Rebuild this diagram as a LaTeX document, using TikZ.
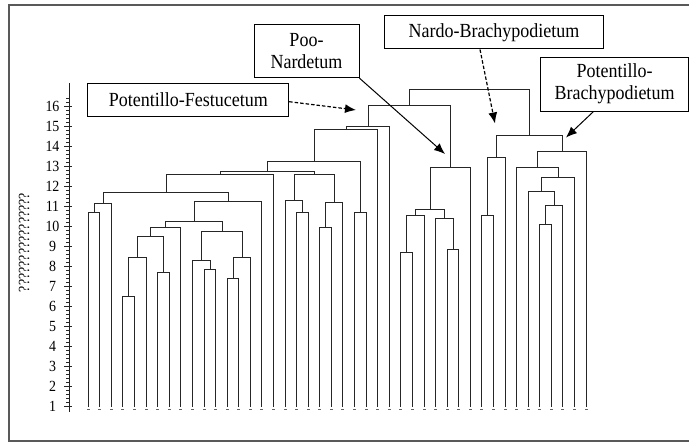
\documentclass[tikz,border=0pt]{standalone}
\usepackage{fontspec}
\setmainfont{Liberation Serif}
\newfontfamily\lblfont[FakeStretch=0.9]{Liberation Serif}
\usetikzlibrary{arrows.meta,calc}
\newcommand\mrg[4]{%
  \path let \p1=(#2), \p2=(#3) in coordinate (#1) at ({floor(0.5*\x1+0.5*\x2)+0.5},{-(round(#4)+0.5)*1pt});
  \draw[dend] (#2) |- (#1) -| (#3);}
\begin{document}
\begin{tikzpicture}[x=1pt,y=-1pt,
  dend/.style={line width=1.85pt, draw=black!85, line join=miter},
  frameline/.style={line width=1.6pt, draw=black!65},
  axisline/.style={line width=1.7pt, draw=black!88},
  tickline/.style={line width=1pt, draw=black!85},
  leafdash/.style={line width=1.2pt, draw=black!60},
  lbox/.style={draw=black, line width=1pt, fill=white, inner sep=0pt, align=center,
    font=\lblfont\fontsize{20}{22}\selectfont},
  ticklbl/.style={inner sep=0pt, font=\lblfont\fontsize{15.5}{16}\selectfont},
  ptr/.style={line width=1pt, draw=black, -{Latex[length=11pt,width=9pt]}},
  dashptr/.style={ptr, line width=1.2pt, dash pattern=on 3.5pt off 2pt},
]
\useasboundingbox (0,0) rectangle (689,443);
% outer frame
\coordinate (fr1) at (700,5);
\coordinate (fr2) at (9,5);
\coordinate (fr3) at (9,441);
\coordinate (fr4) at (700,441);
\draw[frameline] (fr1) -- (fr2) -- (fr3) -- (fr4);

% axis
\coordinate (ax0) at (69.5,411.7);
\coordinate (ax1) at (69.5,83.3);
\draw[axisline] (ax0) -- (ax1);
\foreach \k in {0,...,77} \draw[tickline] (66.3,{406.5-4*\k}) -- (69.5,{406.5-4*\k});
\foreach \v in {1,...,16} {
  \draw[tickline] (64.3,{406.5-20*(\v-1)}) -- (71.8,{406.5-20*(\v-1)});
  \node[ticklbl] (t\v) at (52.5,{406.7-20*(\v-1)}) {\v};
}
\node[rotate=90, inner sep=0pt, font=\lblfont\fontsize{15.5}{16}\selectfont] (ylab) at (24,242.5) {????????????????};

% leaves
\foreach \i in {0,...,43} {
  \coordinate (L\i) at ({round(87.7+11.58*\i)+0.5},407);
  \draw[leafdash] ({round(87.7+11.58*\i)-1},409.5) -- ({round(87.7+11.58*\i)+2},409.5);
}

% dendrogram merges
\mrg{a1}{L0}{L1}{212}
\mrg{a2}{a1}{L2}{203.3}
\mrg{b1}{L3}{L4}{295.5}
\mrg{b2}{b1}{L5}{257.3}
\mrg{b3}{L6}{L7}{272}
\mrg{b4}{b2}{b3}{235.5}
\mrg{b5}{b4}{L8}{226.7}
\mrg{c1}{L10}{L11}{269.3}
\mrg{c2}{L9}{c1}{260}
\mrg{c3}{L12}{L13}{277.7}
\mrg{c4}{c3}{L14}{257.3}
\mrg{c5}{c2}{c4}{230.5}
\mrg{d1}{b5}{c5}{221}
\mrg{d2}{d1}{L15}{200.5}
\mrg{d3}{a2}{d2}{192}
\mrg{d4}{d3}{L16}{174}
\mrg{e1}{L18}{L19}{212}
\mrg{e2}{L17}{e1}{200}
\mrg{e3}{L20}{L21}{227}
\mrg{e4}{e3}{L22}{202}
\mrg{e5}{e2}{e4}{174}
\mrg{f1}{d4}{e5}{171.3}
\mrg{f2}{L23}{L24}{212}
\mrg{f3}{f1}{f2}{161}
\mrg{f4}{f3}{L25}{129.3}
\mrg{f5}{f4}{L26}{126}
\mrg{g1}{L27}{L28}{251.7}
\mrg{g2}{g1}{L29}{215}
\mrg{g3}{L31}{L32}{249}
\mrg{g4}{L30}{g3}{217.7}
\mrg{g5}{g2}{g4}{209.3}
\mrg{g6}{g5}{L33}{166.7}
\mrg{h1}{f5}{g6}{105.3}
\mrg{i1}{L34}{L35}{215}
\mrg{i2}{i1}{L36}{156.7}
\mrg{j1}{L39}{L40}{224}
\mrg{j2}{j1}{L41}{205}
\mrg{j3}{L38}{j2}{190.7}
\mrg{j4}{j3}{L42}{177.3}
\mrg{j5}{L37}{j4}{167.3}
\mrg{j6}{j5}{L43}{151}
\mrg{k1}{i2}{j6}{135}
\mrg{root}{h1}{k1}{89.3}

% label boxes
\node[lbox, minimum width=200.8pt, minimum height=32.7pt] (pf) at (188.3,99.7) {Potentillo-Festucetum};
\node[lbox, minimum width=105pt, minimum height=53.4pt] (pn) at (306.5,51) {Poo-\\Nardetum};
\node[lbox, minimum width=218.3pt, minimum height=33pt] (nb) at (494,32.5) {Nardo-Brachypodietum};
\node[lbox, minimum width=148pt, minimum height=53.7pt] (pb) at (614.5,84.2) {Potentillo-\\Brachypodietum};

% pointers
\coordinate (pftip) at (356,110);
\coordinate (pntip) at (445,154);
\coordinate (nbtip) at (495,123.5);
\coordinate (pbtip) at (566,137.5);
\draw[dashptr] ([yshift=-2pt]pf.east) -- (pftip);
\draw[ptr] (pn.south east) -- (pntip);
\draw[dashptr] ([xshift=-14pt]nb.south) -- (nbtip);
\draw[ptr] ([xshift=-21pt]pb.south) -- (pbtip);
\end{tikzpicture}
\end{document}
